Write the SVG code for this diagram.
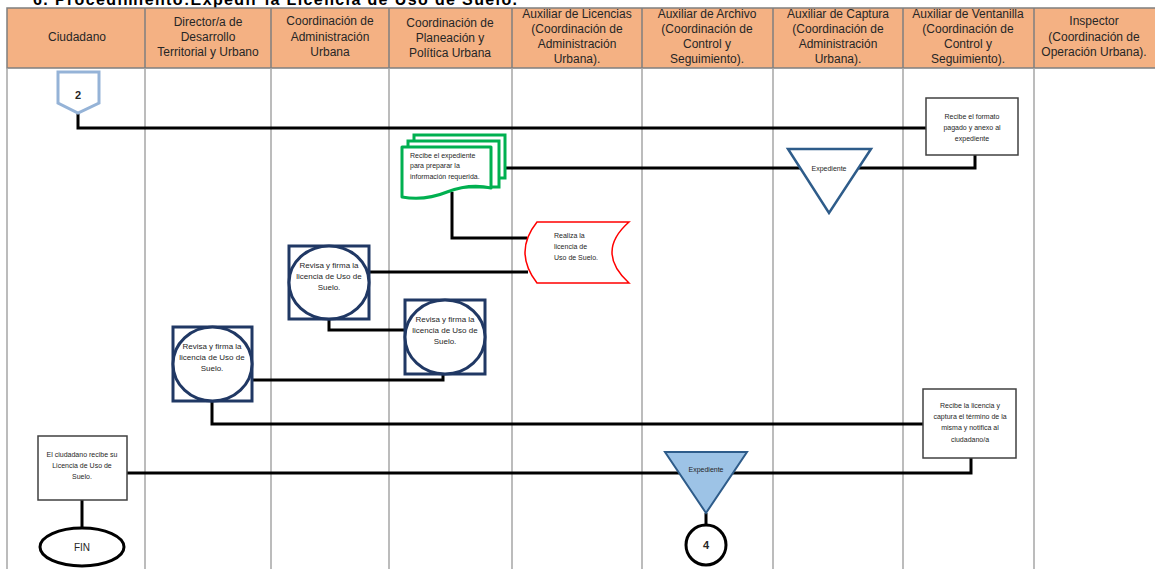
<svg xmlns="http://www.w3.org/2000/svg" width="1155" height="569" viewBox="0 0 1155 569">
<style>
.hd{font-family:"Liberation Sans",Arial,sans-serif;font-size:12px;fill:#262626;text-anchor:middle}
.t{font-family:"Liberation Sans",Arial,sans-serif;font-size:7px;fill:#262626;text-anchor:middle}
.tl{font-family:"Liberation Sans",Arial,sans-serif;font-size:7px;fill:#262626}
.tc{font-family:"Liberation Sans",Arial,sans-serif;font-size:8px;fill:#262626;text-anchor:middle}
.lane{stroke:#A6A6A6;stroke-width:1.5}
.hl{stroke:#7F7F7F;stroke-width:1.5}
.con{fill:none;stroke:#000;stroke-width:3}
.box{fill:#fff;stroke:#404040;stroke-width:1.5}
.nv{fill:#fff;stroke:#203864;stroke-width:3}
</style>
<rect width="1155" height="569" fill="#fff"/>
<text x="33" y="5" font-family="Liberation Sans,Arial,sans-serif" font-size="16" font-weight="bold" fill="#000" textLength="484" lengthAdjust="spacing">6. Procedimiento:Expedir la Licencia de Uso de Suelo.</text>
<g id="header">
<rect x="7" y="8" width="1150" height="60" fill="#F4B183" stroke="#7F7F7F" stroke-width="1.5"/>
<g class="hl">
<line x1="145" y1="8" x2="145" y2="68"/><line x1="271" y1="8" x2="271" y2="68"/><line x1="389" y1="8" x2="389" y2="68"/><line x1="512" y1="8" x2="512" y2="68"/><line x1="642" y1="8" x2="642" y2="68"/><line x1="773" y1="8" x2="773" y2="68"/><line x1="903" y1="8" x2="903" y2="68"/><line x1="1034" y1="8" x2="1034" y2="68"/>
</g>
<text class="hd" x="77" y="41">Ciudadano</text>
<text class="hd" x="208" y="26">Director/a de</text><text class="hd" x="208" y="41">Desarrollo</text><text class="hd" x="208" y="56">Territorial y Urbano</text>
<text class="hd" x="330" y="25">Coordinación de</text><text class="hd" x="330" y="41">Administración</text><text class="hd" x="330" y="56">Urbana</text>
<text class="hd" x="450" y="27">Coordinación de</text><text class="hd" x="450" y="42">Planeación y</text><text class="hd" x="450" y="57">Política Urbana</text>
<text class="hd" x="577" y="18">Auxiliar de Licencias</text><text class="hd" x="577" y="33">(Coordinación de</text><text class="hd" x="577" y="48">Administración</text><text class="hd" x="577" y="63">Urbana).</text>
<text class="hd" x="707" y="18">Auxiliar de Archivo</text><text class="hd" x="707" y="33">(Coordinación de</text><text class="hd" x="707" y="48">Control y</text><text class="hd" x="707" y="63">Seguimiento).</text>
<text class="hd" x="838" y="18">Auxiliar de Captura</text><text class="hd" x="838" y="33">(Coordinación de</text><text class="hd" x="838" y="48">Administración</text><text class="hd" x="838" y="63">Urbana).</text>
<text class="hd" x="968" y="18">Auxiliar de Ventanilla</text><text class="hd" x="968" y="33">(Coordinación de</text><text class="hd" x="968" y="48">Control y</text><text class="hd" x="968" y="63">Seguimiento).</text>
<text class="hd" x="1094" y="25">Inspector</text><text class="hd" x="1094" y="41">(Coordinación de</text><text class="hd" x="1094" y="56">Operación Urbana).</text>
</g>
<g id="lanes" class="lane">
<line x1="7" y1="68" x2="7" y2="569"/><line x1="145" y1="68" x2="145" y2="569"/><line x1="271" y1="68" x2="271" y2="569"/><line x1="389" y1="68" x2="389" y2="569"/><line x1="512" y1="68" x2="512" y2="569"/><line x1="642" y1="68" x2="642" y2="569"/><line x1="773" y1="68" x2="773" y2="569"/><line x1="903" y1="68" x2="903" y2="569"/><line x1="1034" y1="68" x2="1034" y2="569"/>
</g>
<g id="connectors" class="con">
<polyline points="78,113 78,128 926,128"/>
<polyline points="505,168 975,168 975,155"/>
<polyline points="452,192 452,238 527,238"/>
<polyline points="369,272 528,272"/>
<polyline points="329,319 329,330 405,330"/>
<polyline points="443,374 443,380 252,380"/>
<polyline points="212,401 212,424 923,424"/>
<polyline points="971,458 971,473 127,473"/>
<polyline points="82,500 82,528"/>
<polyline points="706,513 706,525"/>
</g>
<g id="n-off2">
<polygon points="58,72 99,72 99,103 78,113 58,103" fill="#fff" stroke="#95B3D7" stroke-width="3"/>
<text x="78" y="99" font-family="Liberation Sans,Arial,sans-serif" font-size="11" font-weight="bold" text-anchor="middle" fill="#262626">2</text>
</g>
<g id="n-formato">
<rect class="box" x="926" y="98" width="92" height="57"/>
<text class="t" x="972" y="119">Recibe el formato</text><text class="t" x="972" y="130">pagado y anexo al</text><text class="t" x="972" y="141">expediente</text>
</g>
<g id="n-expediente1">
<polygon points="788,149 871,149 829,213" fill="#fff" stroke="#2E5C8A" stroke-width="2.5"/>
<text class="t" x="829" y="171">Expediente</text>
</g>
<g id="n-recibe-exp">
<rect x="414" y="135" width="91" height="43" fill="#fff" stroke="#00B050" stroke-width="3"/>
<rect x="408" y="141" width="91" height="46" fill="#fff" stroke="#00B050" stroke-width="3"/>
<path d="M402,147 H491 V188 Q470,183 447,192 Q425,201 402,197 Z" fill="#fff" stroke="#00B050" stroke-width="3" stroke-linejoin="round"/>
<text class="tl" x="410" y="158">Recibe el expediente</text><text class="tl" x="410" y="168">para preparar la</text><text class="tl" x="410" y="179">información requerida.</text>
</g>
<g id="n-realiza">
<path d="M537,222 H629 Q595,252 629,283 H537 Q513,252 537,222 Z" fill="#fff" stroke="#FF0000" stroke-width="1.5"/>
<text class="tl" x="554" y="238">Realiza la</text><text class="tl" x="554" y="249">licencia de</text><text class="tl" x="554" y="260">Uso de Suelo.</text>
</g>
<g id="n-revisa-admin">
<rect class="nv" x="289" y="246" width="80" height="73"/>
<ellipse class="nv" cx="329" cy="282.5" rx="40" ry="36.5"/>
<text class="tc" x="329" y="268">Revisa y firma la</text><text class="tc" x="329" y="279">licencia de Uso de</text><text class="tc" x="329" y="290">Suelo.</text>
</g>
<g id="n-revisa-plan">
<rect class="nv" x="405" y="300" width="80" height="74"/>
<ellipse class="nv" cx="445" cy="337" rx="40" ry="37"/>
<text class="tc" x="445" y="322">Revisa y firma la</text><text class="tc" x="445" y="333">licencia de Uso de</text><text class="tc" x="445" y="344">Suelo.</text>
</g>
<g id="n-revisa-dir">
<rect class="nv" x="173" y="327" width="79" height="74"/>
<ellipse class="nv" cx="212.5" cy="364" rx="39.5" ry="37"/>
<text class="tc" x="212" y="349">Revisa y firma la</text><text class="tc" x="212" y="360">licencia de Uso de</text><text class="tc" x="212" y="371">Suelo.</text>
</g>
<g id="n-recibe-lic">
<rect class="box" x="923" y="389" width="93" height="69"/>
<text class="t" x="970" y="408">Recibe la licencia y</text><text class="t" x="970" y="419">captura el término de la</text><text class="t" x="970" y="430">misma y notifica al</text><text class="t" x="970" y="442">ciudadano/a</text>
</g>
<g id="n-expediente2">
<polygon points="665,452 747,452 706,513" fill="#9DC3E6" stroke="#2E5C8A" stroke-width="2"/>
<text class="t" x="706" y="472">Expediente</text>
</g>
<g id="n-off4">
<circle cx="706" cy="545" r="20" fill="#fff" stroke="#000" stroke-width="3"/>
<text x="706" y="549" font-family="Liberation Sans,Arial,sans-serif" font-size="11" font-weight="bold" text-anchor="middle" fill="#262626">4</text>
</g>
<g id="n-ciudadano">
<rect class="box" x="38" y="436" width="89" height="64"/>
<text class="t" x="82" y="457">El ciudadano recibe su</text><text class="t" x="82" y="468">Licencia de Uso de</text><text class="t" x="82" y="479">Suelo.</text>
</g>
<g id="n-fin">
<ellipse cx="82" cy="547" rx="42" ry="19" fill="#fff" stroke="#000" stroke-width="3"/>
<text x="82" y="551" font-family="Liberation Sans,Arial,sans-serif" font-size="10" text-anchor="middle" fill="#262626">FIN</text>
</g>
</svg>
